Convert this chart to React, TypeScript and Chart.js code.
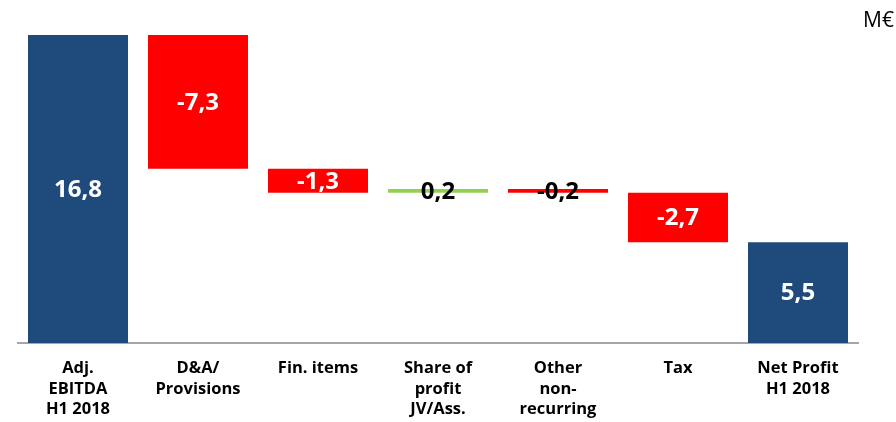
import React, { useEffect, useRef } from "react";
import { Chart, registerables } from "chart.js";

Chart.register(...registerables);

const categories: string[][] = [
  ["Adj.", "EBITDA", "H1 2018"],
  ["D&A/", "Provisions"],
  ["Fin. items"],
  ["Share of", "profit", "JV/Ass."],
  ["Other", "non-", "recurring"],
  ["Tax"],
  ["Net Profit", "H1 2018"],
];
const values: number[] = [16.8, -7.3, -1.3, 0.2, -0.2, -2.7, 5.5];
const isTotal: boolean[] = [true, false, false, false, false, false, true];
const valueLabels: string[] = ["16,8", "-7,3", "-1,3", "0,2", "-0,2", "-2,7", "5,5"];
const unitLabel = "M€";

const NAVY = "#1F4A7C";
const RED = "#FF0000";
const GREEN = "#92D050";

export default function App() {
  const ref = useRef<HTMLCanvasElement>(null);
  useEffect(() => {
    if (!ref.current) return;
    let running = 0;
    const ranges: [number, number][] = values.map((v, i) => {
      if (isTotal[i]) {
        running = v;
        return [0, v];
      }
      const start = running;
      running = running + v;
      return [start, running];
    });
    const colors = values.map((v, i) => (isTotal[i] ? NAVY : v >= 0 ? GREEN : RED));
    const labelColors = values.map((v) => (Math.abs(v) < 0.5 ? "#000000" : "#FFFFFF"));
    const font = "'Open Sans', 'DejaVu Sans', sans-serif";

    const valuePlugin = {
      id: "valueLabels",
      afterDatasetsDraw(chart: any) {
        const ctx = chart.ctx;
        const meta = chart.getDatasetMeta(0);
        ctx.save();
        ctx.font = `bold 24px ${font}`;
        ctx.textAlign = "center";
        ctx.textBaseline = "middle";
        meta.data.forEach((bar: any, i: number) => {
          const y = (bar.y + bar.base) / 2;
          ctx.fillStyle = labelColors[i];
          ctx.fillText(valueLabels[i], bar.x, y + 1);
        });
        ctx.font = `21px ${font}`;
        ctx.fillStyle = "#000";
        ctx.textAlign = "right";
        ctx.fillText(unitLabel, 894, 21);
        ctx.restore();
      },
    };

    const chart = new Chart(ref.current, {
      type: "bar",
      data: {
        labels: categories,
        datasets: [
          {
            data: ranges as any,
            backgroundColor: colors,
            borderWidth: 0,
            barPercentage: 100 / 120,
            categoryPercentage: 1,
          },
        ],
      },
      options: {
        animation: false,
        responsive: false,
        maintainAspectRatio: false,
        layout: { padding: { left: 18, right: 38, top: 35, bottom: 0 } },
        plugins: { legend: { display: false }, tooltip: { enabled: false } },
        scales: {
          x: {
            grid: { display: false, drawTicks: false },
            border: { display: true, color: "#A6A6A6", width: 2 },
            ticks: {
              color: "#000",
              font: { family: font, weight: "bold", size: 16.5, lineHeight: 1.25 },
              padding: 15,
              maxRotation: 0,
              autoSkip: false,
            },
            afterFit: (scale: any) => {
              scale.height = 79;
            },
          },
          y: {
            display: false,
            min: 0,
            max: 16.8,
          },
        },
      },
      plugins: [valuePlugin],
    });
    return () => chart.destroy();
  }, []);
  return (
    <div style={{ position: "fixed", left: 0, top: 0, width: 896, height: 422, background: "#fff" }}>
      <canvas ref={ref} width={896} height={422} style={{ width: 896, height: 422 }} />
    </div>
  );
}
